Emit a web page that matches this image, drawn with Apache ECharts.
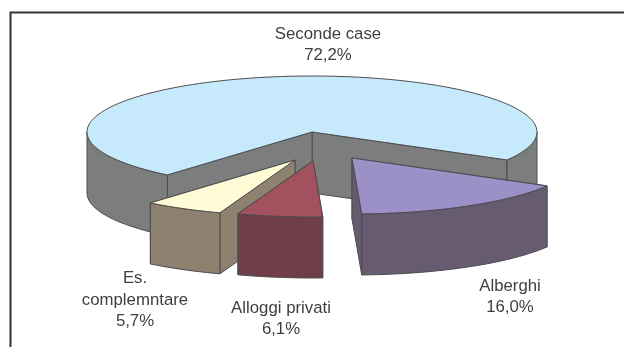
<!DOCTYPE html>
<html>
<head>
<meta charset="utf-8">
<style>html,body{margin:0;padding:0;background:#fff}#c{width:624px;height:347px}</style>
<script src="https://cdn.jsdelivr.net/npm/echarts@6/dist/echarts.min.js"></script>
</head>
<body>
<div id="c"></div>
<script>
// Accommodation shares, in pie order (clockwise)
const names = ['Seconde case', 'Alberghi', 'Alloggi privati', 'Es.\ncomplemntare'];
const shares = [72.2, 16.0, 6.1, 5.7];

// Projected pie geometry
const rim = { rx: 225, ry: 56, depth: 61, startDeg: 220 };
const hub = [[312, 132], [352, 158], [313, 161], [295, 160]];
const labelAt = [[328, 45], [510, 297], [281, 319], [135, 300]];
const topFill = ['#c6e9fb', '#9b91c7', '#a3505f', '#fffbd6'];
const sideFill = ['#7c7e7d', '#665b70', '#6f3e49', '#8f8170'];
// Slices paint back to front
const paintOrder = [0, 1, 3, 2];
const edge = '#4d4d4f';

const total = shares.reduce((a, b) => a + b, 0);
const rad = d => d * Math.PI / 180;
const rimPoint = (c, deg, drop) => [
  c[0] + rim.rx * Math.sin(rad(deg)),
  c[1] - rim.ry * Math.cos(rad(deg)) + (drop || 0)
];
const arc = (c, a, b, drop) => {
  const pts = [];
  const n = Math.max(2, Math.ceil((b - a) / 2));
  for (let i = 0; i <= n; i++) pts.push(rimPoint(c, a + (b - a) * i / n, drop));
  return pts;
};
const face = (points, fill, z2) => ({
  type: 'polygon',
  shape: { points },
  z2,
  style: { fill, stroke: edge, lineWidth: 1, lineJoin: 'round' }
});

// Outer wall: only the front half of the rim (cos < 0) is visible
function wallSpans(a, b) {
  const spans = [];
  for (const [lo, hi] of [[90, 270], [450, 630]]) {
    const s = Math.max(a, lo), e = Math.min(b, hi);
    if (e > s) spans.push([s, e]);
  }
  return spans;
}

function renderSlice(params, api) {
  const i = params.dataIndex;
  let a = rim.startDeg;
  for (let k = 0; k < i; k++) a += 360 * shares[k] / total;
  const b = a + 360 * api.value(0) / total;
  const c = hub[i], top = topFill[i], side = sideFill[i];
  const d = rim.depth;
  const base = paintOrder.indexOf(i) * 10;
  const children = [];

  // Cut faces, the one reaching further back first
  const cuts = [a, b].sort((p, q) => rimPoint(c, p)[1] - rimPoint(c, q)[1]);
  cuts.forEach((deg, n) => {
    const r = rimPoint(c, deg);
    children.push(face([c, r, [r[0], r[1] + d], [c[0], c[1] + d]], side, base + 1 + n));
  });
  wallSpans(a, b).forEach(([s, e], n) => {
    children.push(face(arc(c, s, e, 0).concat(arc(c, s, e, d).reverse()), side, base + 3 + n));
  });
  children.push(face([c].concat(arc(c, a, b, 0)), top, base + 6));

  const pct = api.value(0).toFixed(1).replace('.', ',') + '%';
  children.push({
    type: 'text',
    z2: 100,
    style: {
      x: labelAt[i][0], y: labelAt[i][1],
      text: names[i] + '\n' + pct,
      align: 'center', verticalAlign: 'middle',
      font: '16.8px "Liberation Sans", Arial, sans-serif',
      lineHeight: 21.5,
      fill: '#3f3f41'
    }
  });
  return { type: 'group', children };
}

const chart = echarts.init(document.getElementById('c'), null, { renderer: 'canvas' });
chart.setOption({
  animation: false,
  backgroundColor: '#ffffff',
  graphic: [{
    type: 'polyline',
    shape: { points: [[10.5, 347], [10.5, 12.5], [624, 12.5]] },
    style: { fill: 'none', stroke: '#333336', lineWidth: 2 }
  }],
  series: [{
    type: 'custom',
    coordinateSystem: 'none',
    renderItem: renderSlice,
    data: shares.map(v => [v])
  }]
});
</script>
</body>
</html>
